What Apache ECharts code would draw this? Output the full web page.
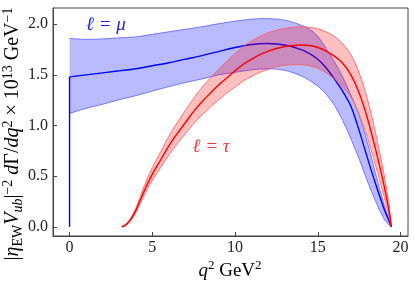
<!DOCTYPE html>
<html>
<head>
<meta charset="utf-8">
<script src="https://cdn.jsdelivr.net/npm/echarts@6/dist/echarts.min.js"></script>
<style>html,body{margin:0;padding:0;background:#fff;}#c{width:415px;height:286px;}</style>
</head>
<body>
<div id="c"></div>
<script>
// ---- data ----
const xTicks = [0, 5, 10, 15, 20];
const yTicks = [0, 0.5, 1.0, 1.5, 2.0];

// l = mu
const muQ2 = [0,1,2,3,4,5,6,7,8,9,10,11,12,13,14,14.5,15,15.5,16,16.5,17,17.5,18,18.5,19,19.3,19.45];
const muUpper = [1.86,1.85,1.855,1.865,1.875,1.90,1.925,1.95,1.975,2.005,2.03,2.05,2.055,2.04,1.99,1.95,1.88,1.76,1.63,1.48,1.30,1.10,0.83,0.52,0.22,0.08,0];
const muLower = [1.12,1.17,1.21,1.255,1.295,1.34,1.385,1.425,1.46,1.50,1.525,1.55,1.56,1.545,1.49,1.445,1.39,1.31,1.20,1.05,0.87,0.67,0.45,0.25,0.08,0.02,0];
const muCentral = [1.48,1.50,1.52,1.54,1.56,1.59,1.62,1.655,1.69,1.73,1.77,1.80,1.81,1.795,1.75,1.71,1.655,1.57,1.46,1.34,1.19,0.95,0.68,0.42,0.18,0.06,0];
const muThresholdQ2 = [0, 0];
const muThresholdRate = [0, 1.48];

// l = tau
const tauQ2 = [3.16,3.4,3.7,4.0,4.5,5.0,5.5,6.0,6.5,7.0,7.5,8.0,8.5,9.0,9.5,10,10.5,11,11.5,12,12.5,13,13.5,14,14.5,15,15.5,16,16.5,17,17.5,18,18.5,19,19.3,19.45];
const tauCentral = [0,0.02,0.075,0.16,0.35,0.52,0.66,0.80,0.92,1.03,1.14,1.235,1.32,1.40,1.47,1.54,1.605,1.655,1.70,1.735,1.76,1.78,1.79,1.795,1.79,1.77,1.735,1.685,1.615,1.50,1.32,1.07,0.76,0.41,0.16,0];
const tauUpper = [0,0.025,0.09,0.185,0.40,0.585,0.74,0.895,1.03,1.15,1.27,1.375,1.47,1.555,1.635,1.71,1.78,1.835,1.88,1.915,1.94,1.96,1.97,1.975,1.97,1.955,1.925,1.88,1.81,1.70,1.52,1.26,0.92,0.52,0.22,0];
const tauLower = [0,0.016,0.063,0.14,0.31,0.46,0.585,0.71,0.82,0.92,1.02,1.105,1.18,1.255,1.32,1.38,1.44,1.485,1.525,1.555,1.58,1.595,1.60,1.60,1.59,1.565,1.52,1.46,1.38,1.28,1.11,0.88,0.60,0.30,0.10,0];

// ---- drawing helpers ----
const FONT = 'Liberation Serif, DejaVu Serif, serif';
const BLUE = '#0000ff', BLUE_EDGE = '#5a5aff', BLUE_FILL = 'rgba(0,0,255,0.27)';
const RED = '#ff0000', RED_EDGE = '#ff5a5a', RED_FILL = 'rgba(255,0,0,0.25)';

// smooth bezier path segments through pixel points (tangent-length normalised)
function tangents(P) {
  const n = P.length, T = [];
  for (let i = 0; i < n; i++) {
    const a = P[Math.max(0, i - 1)], b = P[Math.min(n - 1, i + 1)];
    let dx = b[0] - a[0], dy = b[1] - a[1];
    const l = Math.hypot(dx, dy) || 1;
    T.push([dx / l, dy / l]);
  }
  return T;
}
function curveCmds(P, smooth) {
  let s = '';
  if (!smooth) { for (let i = 1; i < P.length; i++) s += ' L' + P[i][0] + ' ' + P[i][1]; return s; }
  const T = tangents(P);
  for (let i = 0; i < P.length - 1; i++) {
    const a = P[i], b = P[i + 1];
    const d = Math.hypot(b[0] - a[0], b[1] - a[1]) / 3;
    const c1 = [a[0] + T[i][0] * d, a[1] + T[i][1] * d];
    const c2 = [b[0] - T[i + 1][0] * d, b[1] - T[i + 1][1] * d];
    s += ' C' + c1[0] + ' ' + c1[1] + ' ' + c2[0] + ' ' + c2[1] + ' ' + b[0] + ' ' + b[1];
  }
  return s;
}
function openPath(P, smooth) { return 'M' + P[0][0] + ' ' + P[0][1] + curveCmds(P, smooth); }

function bandSeries(xs, lo, up, fill, edge) {
  return {
    type: 'custom', coordinateSystem: 'cartesian2d',
    data: xs.map((x, i) => [x, lo[i], up[i]]),
    encode: {x: 0, y: [1, 2]},
    renderItem: function (params, api) {
      if (params.dataIndex !== 0) return null;
      const n = params.dataInsideLength;
      const U = [], L = [];
      for (let i = 0; i < n; i++) {
        const x = api.value(0, i);
        L.push(api.coord([x, api.value(1, i)]));
        U.push(api.coord([x, api.value(2, i)]));
      }
      const Lr = L.slice().reverse();
      const area = openPath(U, true) + ' L' + Lr[0][0] + ' ' + Lr[0][1] + curveCmds(Lr, true) + ' Z';
      return {type: 'group', children: [
        {type: 'path', shape: {pathData: area}, style: {fill: fill, stroke: null}},
        {type: 'path', shape: {pathData: openPath(U, true)}, style: {stroke: edge, lineWidth: 0.8, fill: null}},
        {type: 'path', shape: {pathData: openPath(L, true)}, style: {stroke: edge, lineWidth: 0.8, fill: null}}
      ]};
    }
  };
}
function curveSeries(xs, ys, color, width, smooth) {
  return {
    type: 'custom', coordinateSystem: 'cartesian2d',
    data: xs.map((x, i) => [x, ys[i]]),
    encode: {x: 0, y: 1},
    renderItem: function (params, api) {
      if (params.dataIndex !== 0) return null;
      const n = params.dataInsideLength;
      const P = [];
      for (let i = 0; i < n; i++) P.push(api.coord([api.value(0, i), api.value(1, i)]));
      return {type: 'path', shape: {pathData: openPath(P, smooth)}, style: {stroke: color, lineWidth: width, fill: null}};
    }
  };
}

const chart = echarts.init(document.getElementById('c'), null, {renderer: 'canvas'});

const axisCol = '#444';
const T = '#111';
const rich = {
  n: {fontFamily: FONT, fontSize: 20, lineHeight: 24, color: T},
  i: {fontFamily: FONT, fontSize: 20, fontStyle: 'italic', lineHeight: 24, color: T},
  sup: {fontFamily: FONT, fontSize: 14, lineHeight: 14, verticalAlign: 'top', color: T},
  sub: {fontFamily: FONT, fontSize: 14, lineHeight: 14, verticalAlign: 'bottom', color: T},
  subi: {fontFamily: FONT, fontSize: 14, fontStyle: 'italic', lineHeight: 14, verticalAlign: 'bottom', color: T}
};
const richX = {
  n: {fontFamily: FONT, fontSize: 19, lineHeight: 24, color: T},
  i: {fontFamily: FONT, fontSize: 19, fontStyle: 'italic', lineHeight: 24, color: T},
  sup: {fontFamily: FONT, fontSize: 13, lineHeight: 13, verticalAlign: 'top', color: T}
};

chart.setOption({
  animation: false,
  backgroundColor: '#fff',
  grid: {left: 53, right: 7, top: 8, bottom: 50, show: true, borderColor: axisCol, borderWidth: 1, backgroundColor: 'transparent'},
  xAxis: {
    type: 'value', min: -1.0, max: 20.45,
    axisLine: {show: true, onZero: false, lineStyle: {color: axisCol, width: 1}},
    axisTick: {show: true, inside: true, length: 4, customValues: xTicks, lineStyle: {color: axisCol}},
    axisLabel: {customValues: xTicks, fontFamily: FONT, fontSize: 16, color: '#222', margin: 4},
    splitLine: {show: false}
  },
  yAxis: {
    type: 'value', min: -0.09, max: 2.16,
    axisLine: {show: true, onZero: false, lineStyle: {color: axisCol, width: 1}},
    axisTick: {show: true, inside: true, length: 4, customValues: yTicks, lineStyle: {color: axisCol}},
    axisLabel: {customValues: yTicks, fontFamily: FONT, fontSize: 16, color: '#222', margin: 5,
      formatter: v => v.toFixed(1)},
    splitLine: {show: false}
  },
  series: [
    bandSeries(muQ2, muLower, muUpper, BLUE_FILL, BLUE_EDGE),
    curveSeries(muThresholdQ2, muThresholdRate, BLUE, 1.4, false),
    curveSeries(muQ2, muCentral, BLUE, 1.4, true),
    bandSeries(tauQ2, tauLower, tauUpper, RED_FILL, RED_EDGE),
    curveSeries(tauQ2, tauCentral, RED, 1.4, true)
  ],
  graphic: [
    {type: 'text', x: 13, y: 134, rotation: Math.PI / 2,
      style: {text: '{n||}{i|η}{sub|EW}{i|V}{subi|ub}{n||}{sup|−2}{i| d}{n|Γ}{n|/}{i|dq}{sup|2}{n| × 10}{sup|13}{n| GeV}{sup|−1}',
        rich: rich, align: 'center', verticalAlign: 'middle'}},
    {type: 'text', x: 230, y: 271,
      style: {text: '{i|q}{sup|2}{n| GeV}{sup|2}', rich: richX, align: 'center', verticalAlign: 'middle'}},
    {type: 'text', x: 106, y: 25,
      style: {text: 'ℓ = μ', fontFamily: FONT, fontStyle: 'italic', fontSize: 19, fill: '#2323e6', align: 'center', verticalAlign: 'middle'}},
    {type: 'text', x: 211, y: 147,
      style: {text: 'ℓ = τ', fontFamily: FONT, fontStyle: 'italic', fontSize: 19, fill: '#f03c3c', align: 'center', verticalAlign: 'middle'}}
  ]
});
</script>
</body>
</html>
